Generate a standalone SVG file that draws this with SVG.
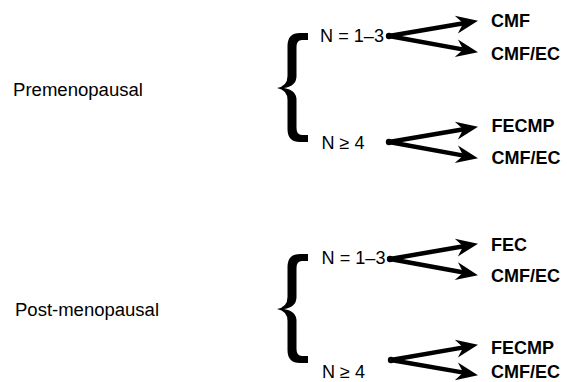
<svg xmlns="http://www.w3.org/2000/svg" width="567" height="382" viewBox="0 0 567 382">
  <style>
    .t { font-family: "Liberation Sans", Arial, Helvetica, sans-serif; font-size: 18px; fill: #000; }
    .res { font-weight: bold; }
    .brace { fill: #000; }
    .arrow { stroke: #000; stroke-width: 4.5; fill: none; stroke-linecap: round; marker-end: url(#head); }
    .dot { fill: #000; }
  </style>
  <defs>
    <!-- barbed arrowhead; the shaft ends 12px behind the tip -->
    <marker id="head" markerUnits="userSpaceOnUse" viewBox="-1 -11 24 22" markerWidth="24" markerHeight="22" refX="9" refY="0" orient="auto">
      <path d="M0,-9 L22,0 L0,9 L7,0 Z" fill="#000"/>
    </marker>
    <!-- curly brace spanning y 33..142, cusp pointing left -->
    <path id="brace-shape" d="M308,33 L300,33 Q287.5,33 287.5,46 L287.5,76 Q287.5,86 277,88 Q287.5,90 287.5,100 L287.5,129 Q287.5,142 300,142 L308,142 L308,135 L302,135 Q296.5,135 296.5,128 L296.5,100 Q296.5,90 284,88 Q296.5,86 296.5,76 L296.5,47 Q296.5,40 302,40 L308,40 Z"/>
  </defs>

  <rect width="567" height="382" fill="#fff"/>

  <!-- group labels -->
  <g id="premenopausal">
    <text class="t" x="13" y="96" textLength="130" lengthAdjust="spacingAndGlyphs">Premenopausal</text>
  </g>
  <g id="post-menopausal">
    <text class="t" x="15" y="316" textLength="144" lengthAdjust="spacingAndGlyphs">Post-menopausal</text>
  </g>

  <!-- braces -->
  <g id="pre-brace"><use href="#brace-shape" class="brace"/></g>
  <g id="post-brace"><use href="#brace-shape" class="brace" transform="translate(0,221)"/></g>

  <!-- nodal status -->
  <g id="pre-n13"><text class="t" x="320" y="42" textLength="64" lengthAdjust="spacingAndGlyphs">N = 1–3</text></g>
  <g id="pre-n4"><text class="t" x="321.5" y="148.5" textLength="43" lengthAdjust="spacingAndGlyphs">N ≥ 4</text></g>
  <g id="post-n13"><text class="t" x="321.5" y="264" textLength="64" lengthAdjust="spacingAndGlyphs">N = 1–3</text></g>
  <g id="post-n4"><text class="t" x="322" y="377.5" textLength="43" lengthAdjust="spacingAndGlyphs">N ≥ 4</text></g>

  <!-- regimens -->
  <g id="pre-n13-cmf"><text class="t res" x="491" y="27">CMF</text></g>
  <g id="pre-n13-cmfec"><text class="t res" x="491" y="59.5">CMF/EC</text></g>
  <g id="pre-n4-fecmp"><text class="t res" x="491.5" y="132">FECMP</text></g>
  <g id="pre-n4-cmfec"><text class="t res" x="491.5" y="163.5">CMF/EC</text></g>
  <g id="post-n13-fec"><text class="t res" x="491" y="250.5">FEC</text></g>
  <g id="post-n13-cmfec"><text class="t res" x="491" y="282">CMF/EC</text></g>
  <g id="post-n4-fecmp"><text class="t res" x="491" y="353.5">FECMP</text></g>
  <g id="post-n4-cmfec"><text class="t res" x="491" y="377.5">CMF/EC</text></g>

  <!-- connectors -->
  <g id="connectors">
    <circle class="dot" cx="389" cy="36" r="3.2"/>
    <line class="arrow" x1="389" y1="36" x2="465.2" y2="23"/>
    <line class="arrow" x1="389" y1="36" x2="465.2" y2="49.85"/>

    <circle class="dot" cx="389" cy="142" r="3.2"/>
    <line class="arrow" x1="389" y1="142" x2="465.2" y2="129"/>
    <line class="arrow" x1="389" y1="142" x2="465.2" y2="155.85"/>

    <circle class="dot" cx="390" cy="259" r="3.2"/>
    <line class="arrow" x1="390" y1="259" x2="465.2" y2="246"/>
    <line class="arrow" x1="390" y1="259" x2="465.2" y2="272.8"/>

    <circle class="dot" cx="391" cy="360" r="3.2"/>
    <line class="arrow" x1="391" y1="360" x2="465.2" y2="347.1"/>
    <line class="arrow" x1="391" y1="360" x2="465.2" y2="372.9"/>
  </g>
</svg>
